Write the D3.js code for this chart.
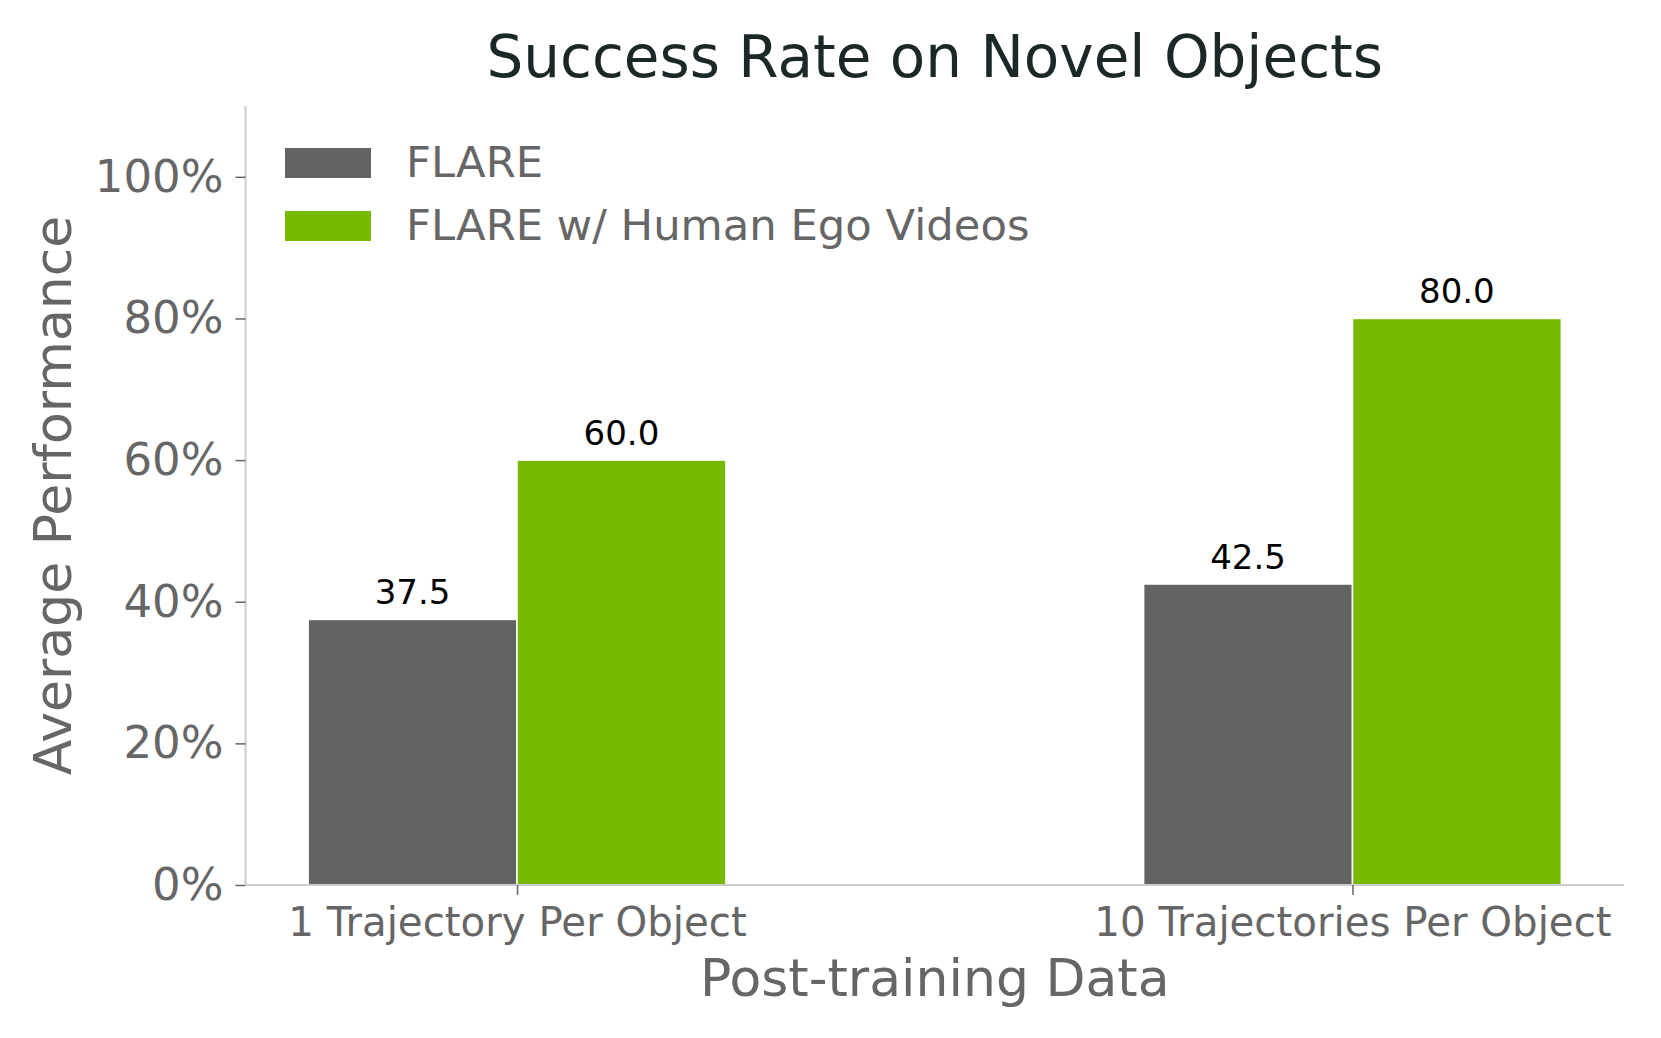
<!DOCTYPE html>
<html>
<head>
<meta charset="utf-8">
<script src="https://cdn.jsdelivr.net/npm/d3@7"></script>
<style>
  body { margin: 0; background: #fff; }
  svg { display: block; font-family: 'DejaVu Sans', sans-serif; }
</style>
</head>
<body>
<div id="wrapper"></div>
<script>
// data
const categories = ['1 Trajectory Per Object', '10 Trajectories Per Object']
const seriesNames = ['FLARE', 'FLARE w/ Human Ego Videos']
const flareValues = [37.5, 42.5]
const egoValues = [60.0, 80.0]
const yTicks = [0, 20, 40, 60, 80, 100]
const seriesColors = ['#636365', '#76b900']

const series = [flareValues, egoValues]

const dimensions = {
  width: 1661,
  height: 1038,
  margin: { top: 106, right: 37, bottom: 153, left: 245.5 },
}
dimensions.boundedWidth = dimensions.width - dimensions.margin.left - dimensions.margin.right
dimensions.boundedHeight = dimensions.height - dimensions.margin.top - dimensions.margin.bottom

const barWidth = 0.25

const wrapper = d3
  .select('#wrapper')
  .append('svg')
  .attr('width', dimensions.width)
  .attr('height', dimensions.height)

const bounds = wrapper
  .append('g')
  .attr('transform', `translate(${dimensions.margin.left},${dimensions.margin.top})`)

// scales (matplotlib-like x limits: bars extent plus 5% margin)
const xScale = d3
  .scaleLinear()
  .domain([-0.325, categories.length - 1 + 0.325])
  .range([0, dimensions.boundedWidth])

const yScale = d3
  .scaleLinear()
  .domain([0, 110])
  .range([dimensions.boundedHeight, 0])

// bars
series.forEach((values, s) => {
  const offset = (s - 0.5) * barWidth
  const g = bounds.append('g')
  g.selectAll('rect')
    .data(values)
    .join('rect')
    .attr('x', (d, i) => xScale(i + offset - barWidth / 2))
    .attr('y', (d) => yScale(d))
    .attr('width', xScale(barWidth) - xScale(0))
    .attr('height', (d) => yScale(0) - yScale(d))
    .attr('fill', seriesColors[s])
    .attr('stroke', '#ffffff')
    .attr('stroke-width', 1.5)

  g.selectAll('text')
    .data(values)
    .join('text')
    .attr('x', (d, i) => xScale(i + offset))
    .attr('y', (d) => yScale(d) - 15)
    .attr('text-anchor', 'middle')
    .attr('font-size', 34)
    .attr('fill', '#000')
    .text((d) => d.toFixed(1))
})

// axes
const yAxis = bounds
  .append('g')
  .call(
    d3.axisLeft(yScale)
      .tickValues(yTicks)
      .tickSize(10)
      .tickPadding(12)
      .tickFormat((d) => `${d}%`)
  )
yAxis.select('.domain').attr('stroke', '#cccccc').attr('stroke-width', 2)
  .attr('d', `M0,${dimensions.boundedHeight}V0`)
yAxis.selectAll('.tick line').attr('stroke', '#666666').attr('stroke-width', 1.5)
yAxis.selectAll('.tick text')
  .attr('font-size', 45)
  .attr('fill', '#666666')
  .attr('font-family', 'DejaVu Sans')

const xAxis = bounds
  .append('g')
  .attr('transform', `translate(0,${dimensions.boundedHeight})`)
  .call(
    d3.axisBottom(xScale)
      .tickValues(categories.map((d, i) => i))
      .tickSize(10)
      .tickPadding(12)
      .tickFormat((i) => categories[i])
  )
xAxis.select('.domain').attr('stroke', '#cccccc').attr('stroke-width', 2)
  .attr('d', `M0,0H${dimensions.boundedWidth}`)
xAxis.selectAll('.tick line').attr('stroke', '#666666').attr('stroke-width', 1.5)
xAxis.selectAll('.tick text')
  .attr('font-size', 40.3)
  .attr('fill', '#666666')
  .attr('font-family', 'DejaVu Sans')

// title and labels
wrapper.append('text')
  .attr('x', dimensions.margin.left + dimensions.boundedWidth / 2)
  .attr('y', 77)
  .attr('text-anchor', 'middle')
  .attr('font-size', 58)
  .attr('fill', '#1c2727')
  .text('Success Rate on Novel Objects')

wrapper.append('text')
  .attr('x', dimensions.margin.left + dimensions.boundedWidth / 2)
  .attr('y', 996)
  .attr('text-anchor', 'middle')
  .attr('font-size', 52)
  .attr('fill', '#666666')
  .text('Post-training Data')

wrapper.append('text')
  .attr('transform', `translate(71,${dimensions.margin.top + dimensions.boundedHeight / 2}) rotate(-90)`)
  .attr('text-anchor', 'middle')
  .attr('font-size', 52)
  .attr('fill', '#666666')
  .text('Average Performance')

// legend
const legend = wrapper.append('g').attr('transform', 'translate(285,148)')
const legendItems = legend.selectAll('g')
  .data(seriesNames)
  .join('g')
  .attr('transform', (d, i) => `translate(0,${i * 63})`)
legendItems.append('rect')
  .attr('width', 86)
  .attr('height', 30)
  .attr('fill', (d, i) => seriesColors[i])
legendItems.append('text')
  .attr('x', 121)
  .attr('y', 29)
  .attr('font-size', 43.3)
  .attr('fill', '#666666')
  .text((d) => d)
</script>
</body>
</html>
